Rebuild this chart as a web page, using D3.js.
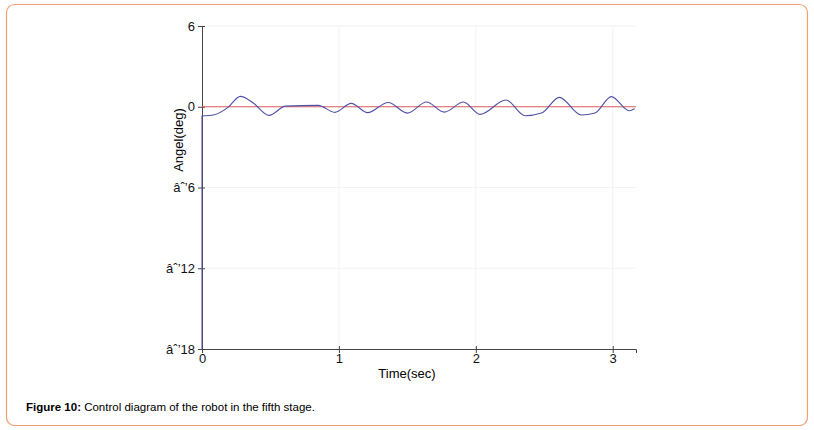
<!DOCTYPE html><html><head><script src="https://d3js.org/d3.v7.min.js"></script>
<style>body{margin:0;background:#fff}text{font-family:Arial,"Liberation Sans",sans-serif}</style></head><body>
<svg width="814" height="430"></svg>
<script>
const times=[0,0,0.09,0.19,0.28,0.37,0.49,0.61,0.85,0.97,1.09,1.21,1.36,1.5,1.64,1.77,1.91,2.03,2.22,2.36,2.48,2.61,2.77,2.87,2.99,3.12,3.16];
const angles=[-18,-0.7,-0.6,-0.05,0.77,0.32,-0.64,0.05,0.1,-0.42,0.25,-0.44,0.32,-0.47,0.35,-0.4,0.35,-0.57,0.5,-0.67,-0.47,0.7,-0.61,-0.47,0.75,-0.3,-0.15];
const yTicks=[6,0,-6,-12,-18];
const xTicks=[0,1,2,3];
const svg=d3.select("svg");
svg.append("rect").attr("x",6.5).attr("y",4.5).attr("width",801).attr("height",421).attr("rx",8).attr("fill","none").attr("stroke","#f0a070").attr("stroke-width",1.2);
const x=d3.scaleLinear().domain([0,3.17]).range([202,636]);
const y=d3.scaleLinear().domain([-18,6]).range([349,26]);
const g=svg.append("g");
g.selectAll(".gx").data([1,2,3]).enter().append("line").attr("x1",d=>x(d)).attr("x2",d=>x(d)).attr("y1",26).attr("y2",349).attr("stroke","#f2f2f2");
g.selectAll(".gy").data([6,0,-6,-12]).enter().append("line").attr("x1",202).attr("x2",636).attr("y1",d=>y(d)).attr("y2",d=>y(d)).attr("stroke","#f2f2f2");
const ya=svg.append("g").attr("transform","translate(202,0)").call(d3.axisLeft(y).tickValues(yTicks).tickSize(4).tickPadding(3).tickFormat(d3.format("d")));
const xa=svg.append("g").attr("transform","translate(0,349)").call(d3.axisBottom(x).tickValues(xTicks).tickSize(4).tickFormat(d3.format("d")));
ya.selectAll(".tick line").attr("x1",3);
xa.selectAll(".tick line").attr("y1",-3);
[ya,xa].forEach(a=>{a.select(".domain").attr("stroke","#444");a.selectAll("line").attr("stroke","#444");a.selectAll("text").attr("font-size",13).attr("fill","#111").attr("font-family","Arial,Liberation Sans,sans-serif");});
xa.selectAll("text").attr("dy","0.5em");
svg.append("line").attr("x1",x(0)).attr("x2",x(3.17)).attr("y1",y(0)).attr("y2",y(0)).attr("stroke","#d86060").attr("stroke-width",1.2);
const line=d3.line().x((d,i)=>x(times[i])).y(d=>y(d)).curve(d3.curveMonotoneX);
svg.append("path").attr("d",line(angles)).attr("fill","none").attr("stroke","#5050a8").attr("stroke-width",1.1);
svg.append("text").attr("x",407).attr("y",378).attr("text-anchor","middle").attr("font-size",13).text("Time(sec)");
svg.append("text").attr("transform","translate(183,140) rotate(-90)").attr("text-anchor","middle").attr("font-size",13).text("Angel(deg)");
const c=svg.append("text").attr("x",26).attr("y",411).attr("font-size",11.5);
c.append("tspan").attr("font-weight","bold").text("Figure 10:");
c.append("tspan").text(" Control diagram of the robot in the fifth stage.");
</script></body></html>
